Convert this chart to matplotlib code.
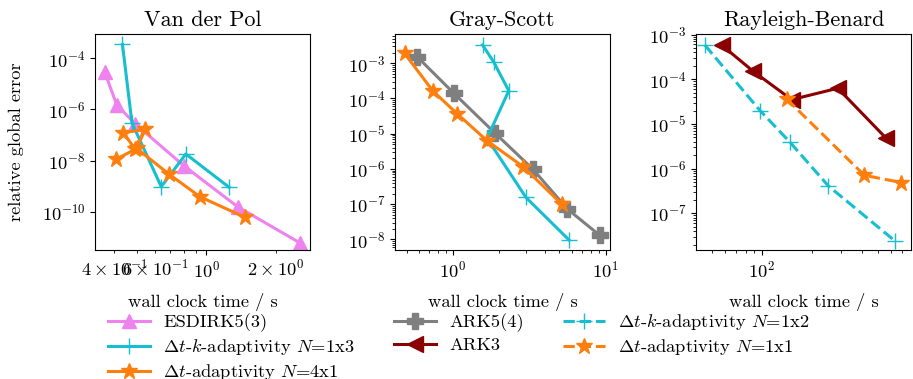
import matplotlib
matplotlib.use("Agg")
import matplotlib.pyplot as plt
from matplotlib.ticker import LogLocator, NullLocator

plt.rcParams.update({
    "font.family": "serif",
    "font.serif": ["cmr10"],
    "mathtext.fontset": "cm",
    "axes.formatter.use_mathtext": True,
    "font.size": 13.3,
    "axes.unicode_minus": False,
})

# ---- Van der Pol ----
vdp_esdirk_t = [0.363, 0.41, 0.493, 0.80, 1.37, 2.55]
vdp_esdirk_err = [3.0e-5, 1.5e-6, 2.7e-7, 6.3e-9, 1.55e-10, 6.0e-12]
vdp_dtk13_t = [0.434, 0.477, 0.639, 0.817, 1.26]
vdp_dtk13_err = [3.5e-4, 3.0e-7, 9.5e-10, 1.8e-8, 8.9e-10]
vdp_dt41_t = [0.407, 0.493, 0.438, 0.545, 0.50, 0.69, 0.942, 1.475]
vdp_dt41_err = [1.12e-8, 2.75e-8, 1.23e-7, 1.66e-7, 3.0e-8, 2.95e-9, 3.8e-10, 6.0e-11]

# ---- Gray-Scott ----
gs_ark54_t = [0.584, 1.02, 1.88, 3.34, 5.63, 9.18]
gs_ark54_err = [1.55e-3, 1.4e-4, 1.07e-5, 1.0e-6, 7.3e-8, 1.3e-8]
gs_dtk13_t = [1.57, 1.86, 2.33, 1.68, 3.02, 5.78]
gs_dtk13_err = [3.3e-3, 1.07e-3, 1.66e-4, 7.4e-6, 1.55e-7, 9.6e-9]
gs_dt41_t = [0.485, 0.741, 1.07, 1.69, 2.9, 5.18]
gs_dt41_err = [1.9e-3, 1.66e-4, 3.7e-5, 6.2e-6, 1.15e-6, 1.0e-7]

# ---- Rayleigh-Benard ----
rb_ark3_t = [57.4, 89, 151.5, 287, 561]
rb_ark3_err = [5.8e-4, 1.5e-4, 3.5e-5, 6.3e-5, 4.8e-6]
rb_dtk12_t = [45.5, 97.6, 148, 252, 635]
rb_dtk12_err = [5.8e-4, 2.0e-5, 3.9e-6, 4.1e-7, 2.4e-8]
rb_dt11_t = [141.5, 415, 690]
rb_dt11_err = [3.6e-5, 7.1e-7, 4.9e-7]

titles = ["Van der Pol", "Gray-Scott", "Rayleigh-Benard"]

C_ESDIRK = "violet"
C_CYAN = "tab:cyan"
C_ORANGE = "tab:orange"
C_GRAY = "tab:gray"
C_ARK3 = "darkred"

LW = 2.2
style_esdirk = dict(color=C_ESDIRK, marker="^", ms=10, lw=LW)
style_dtk = dict(color=C_CYAN, marker="+", ms=12, mew=1.0, lw=LW)
style_dt = dict(color=C_ORANGE, marker="*", ms=12, lw=LW)
style_ark54 = dict(color=C_GRAY, marker="P", ms=11, lw=LW)
style_ark3 = dict(color=C_ARK3, marker="<", ms=11, lw=LW)

fig = plt.figure(figsize=(9.13, 3.79), dpi=100)
W, H = 913, 379
axes = []
for left in (95, 395, 696):
    axes.append(fig.add_axes([left / W, (H - 250) / H, 215 / W, 216 / H]))
ax1, ax2, ax3 = axes

h_esdirk, = ax1.plot(vdp_esdirk_t, vdp_esdirk_err, label="ESDIRK5(3)", **style_esdirk)
h_dtk13, = ax1.plot(vdp_dtk13_t, vdp_dtk13_err,
                    label=r"$\Delta t$-$k$-adaptivity $N$=1x3", **style_dtk)
h_dt41, = ax1.plot(vdp_dt41_t, vdp_dt41_err,
                   label=r"$\Delta t$-adaptivity $N$=4x1", **style_dt)

h_ark54, = ax2.plot(gs_ark54_t, gs_ark54_err, label="ARK5(4)", **style_ark54)
ax2.plot(gs_dtk13_t, gs_dtk13_err, **style_dtk)
ax2.plot(gs_dt41_t, gs_dt41_err, **style_dt)

h_ark3, = ax3.plot(rb_ark3_t, rb_ark3_err, label="ARK3", **style_ark3)
h_dtk12, = ax3.plot(rb_dtk12_t, rb_dtk12_err, ls="--",
                    label=r"$\Delta t$-$k$-adaptivity $N$=1x2", **style_dtk)
h_dt11, = ax3.plot(rb_dt11_t, rb_dt11_err, ls="--",
                   label=r"$\Delta t$-adaptivity $N$=1x1", **style_dt)

for ax, title in zip(axes, titles):
    ax.set_xscale("log")
    ax.set_yscale("log")
    ax.set_title(title)
    ax.set_xlabel("wall clock time / s", labelpad=9)

ax1.set_xlim(0.33, 2.82)
ax1.set_ylim(10 ** -11.5, 10 ** -3.05)
ax1.yaxis.set_major_locator(LogLocator(base=10, subs=(1.0,), numticks=5))
ax1.yaxis.set_minor_locator(NullLocator())
ax1.set_ylabel("relative global error", labelpad=13)

ax2.set_xlim(0.42, 10.7)
ax2.set_ylim(10 ** -8.3, 10 ** -2.17)
ax2.yaxis.set_major_locator(LogLocator(base=10, subs=(1.0,), numticks=15))
ax2.yaxis.set_minor_locator(LogLocator(base=10, subs=range(2, 10), numticks=15))

ax3.set_xlim(40.2, 792)
ax3.set_ylim(10 ** -7.82, 1.03e-3)
ax3.yaxis.set_major_locator(LogLocator(base=10, subs=(1.0,), numticks=15))
ax3.yaxis.set_minor_locator(LogLocator(base=10, subs=range(2, 10), numticks=15))

handles = [h_esdirk, h_dtk13, h_dt41, h_ark54, h_ark3, h_dtk12, h_dt11]
fig.legend(handles, [h.get_label() for h in handles], ncol=3, frameon=False,
           loc="upper left", bbox_to_anchor=(0.1, 0.22),
           handlelength=2.3, handletextpad=0.7, labelspacing=0.27,
           columnspacing=2.1)

fig.savefig("out.png", dpi=100)
